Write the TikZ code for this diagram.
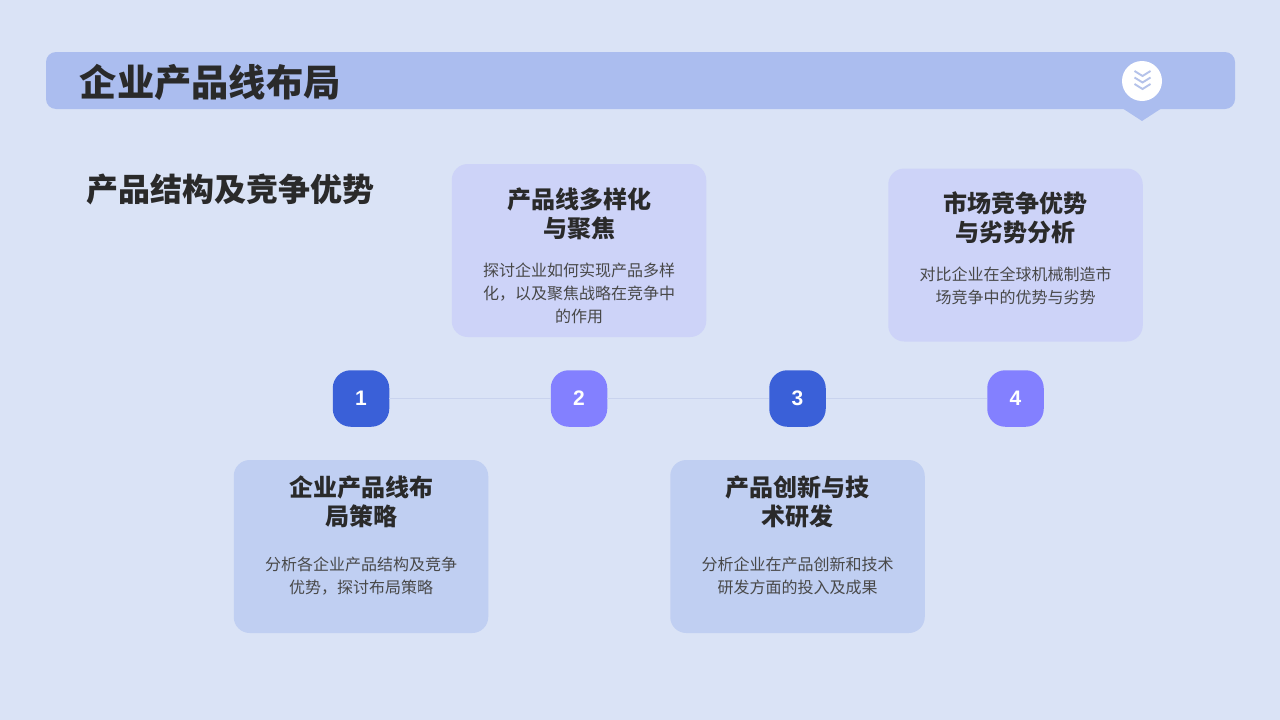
\documentclass[tikz,border=0pt]{standalone}
\usepackage{fontspec}
\setmainfont{Noto Sans CJK SC}
\newfontfamily\numfont{Liberation Sans}
\definecolor{pagebg}{HTML}{DAE3F6}
\definecolor{barfill}{HTML}{ABBDEF}
\definecolor{cardtop}{HTML}{CDD3F8}
\definecolor{cardbot}{HTML}{C0CFF2}
\definecolor{badgeblue}{HTML}{3A60D8}
\definecolor{badgeviolet}{HTML}{8380FF}
\definecolor{linkline}{HTML}{C9D3EE}
\definecolor{inktext}{HTML}{2A2A2A}
\definecolor{bodytext}{HTML}{484848}
\definecolor{chev}{HTML}{B4C2EA}
\tikzset{
  x=1pt,y=-1pt,
  cardbox/.style={draw=none,rounded corners=16pt,minimum width=254.5pt,minimum height=173pt,inner sep=0pt},
  badge/.style={draw=none,rounded corners=18pt,minimum width=56.5pt,minimum height=56.5pt,inner sep=0pt,text=white,
    font=\numfont\bfseries\fontsize{21}{24}\selectfont},
  cardtitle/.style={align=center,inner sep=0pt,text=inktext,font=\bfseries\fontsize{24}{29}\selectfont},
  cardbody/.style={align=center,inner sep=0pt,text=bodytext,font=\fontsize{16}{23}\selectfont},
  chevline/.style={draw=chev,line width=1.9pt}
}
\begin{document}
\begin{tikzpicture}
\useasboundingbox (0,0) rectangle (1280,720);
\fill[pagebg] (0,0) rectangle (1280,720);
% header bar
\fill[barfill] (1122,108) -- (1142,121) -- (1162,108) -- cycle;
\node[fill=barfill,rounded corners=10pt,minimum width=1189pt,minimum height=57pt,inner sep=0pt] (bar) at (640.5,80.5) {};
\node[anchor=west,inner sep=0pt,text=inktext,font=\bfseries\fontsize{37.3}{44}\selectfont] (title) at (79.5,82) {企业产品线布局};
\node[circle,fill=white,minimum size=40pt,inner sep=0pt] (icon) at (1142,81) {};
\draw[chevline] (1134.5,71) -- (1142.5,76) -- (1150.5,71);
\draw[chevline] (1134.5,77.5) -- (1142.5,82.5) -- (1150.5,77.5);
\draw[chevline] (1134.5,84) -- (1142.5,89) -- (1150.5,84);
\node[anchor=west,inner sep=0pt,text=inktext,font=\bfseries\fontsize{32}{38}\selectfont] (sub) at (86,189) {产品结构及竞争优势};
% cards
\node[cardbox,fill=cardtop] (c2) at (579,250.5) {};
\node[cardbox,fill=cardtop] (c4) at (1015.5,255) {};
\node[cardbox,fill=cardbot] (c1) at (361,546.5) {};
\node[cardbox,fill=cardbot] (c3) at (797.5,546.5) {};
\node[cardtitle] (t2) at (579,213.5) {产品线多样化\\与聚焦};
\node[cardbody] (b2) at (579,293) {探讨企业如何实现产品多样\\化，以及聚焦战略在竞争中\\的作用};
\node[cardtitle] (t4) at (1015.5,217.5) {市场竞争优势\\与劣势分析};
\node[cardbody] (b4) at (1015.5,285.5) {对比企业在全球机械制造市\\场竞争中的优势与劣势};
\node[cardtitle] (t1) at (361,502) {企业产品线布\\局策略};
\node[cardbody] (b1) at (361,576) {分析各企业产品结构及竞争\\优势，探讨布局策略};
\node[cardtitle] (t3) at (797.5,502) {产品创新与技\\术研发};
\node[cardbody] (b3) at (797.5,575.5) {分析企业在产品创新和技术\\研发方面的投入及成果};
% timeline
\node[badge,fill=badgeblue] (n1) at (361,398.5) {\raisebox{-0.7pt}{1}};
\node[badge,fill=badgeviolet] (n2) at (579,398.5) {\raisebox{-0.7pt}{2}};
\node[badge,fill=badgeblue] (n3) at (797.5,398.5) {\raisebox{-0.7pt}{3}};
\node[badge,fill=badgeviolet] (n4) at (1015.5,398.5) {\raisebox{-0.7pt}{4}};
\draw[linkline,line width=1pt] (n1) -- (n2);
\draw[linkline,line width=1pt] (n2) -- (n3);
\draw[linkline,line width=1pt] (n3) -- (n4);
\end{tikzpicture}
\end{document}
